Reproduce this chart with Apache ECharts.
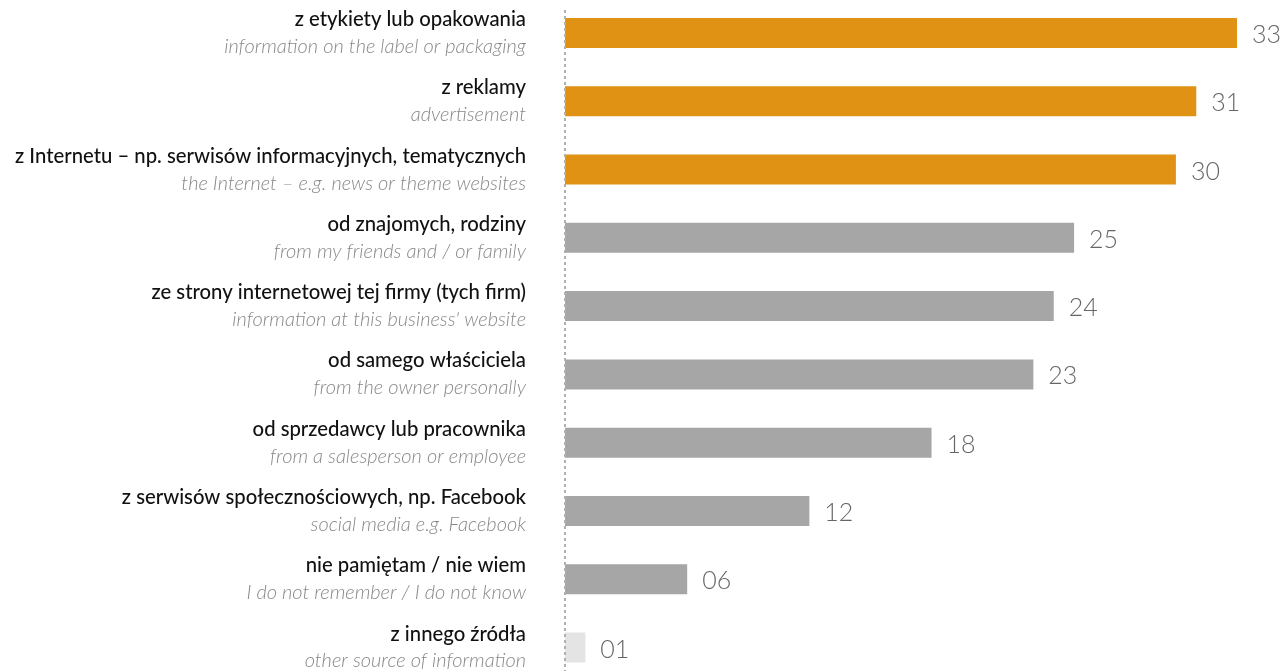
<!DOCTYPE html>
<html>
<head>
<meta charset="utf-8">
<script src="https://cdn.jsdelivr.net/npm/echarts@6/dist/echarts.min.js"></script>
<style>
  html, body { margin: 0; padding: 0; background: #ffffff; }
  #chart { width: 1286px; height: 671px; }
</style>
</head>
<body>
<div id="chart"></div>
<script>
// Source-of-information categories (Polish with English translation), top to bottom
const labelsPl = [
  'z etykiety lub opakowania',
  'z reklamy',
  'z Internetu – np. serwisów informacyjnych, tematycznych',
  'od znajomych, rodziny',
  'ze strony internetowej tej firmy (tych firm)',
  'od samego właściciela',
  'od sprzedawcy lub pracownika',
  'z serwisów społecznościowych, np. Facebook',
  'nie pamiętam / nie wiem',
  'z innego źródła'
];
const labelsEn = [
  'information on the label or packaging',
  'advertisement',
  'the Internet – e.g. news or theme websites',
  'from my friends and / or family',
  'information at this business\' website',
  'from the owner personally',
  'from a salesperson or employee',
  'social media e.g. Facebook',
  'I do not remember / I do not know',
  'other source of information'
];
const values = [33, 31, 30, 25, 24, 23, 18, 12, 6, 1];
const barGroups = ['top', 'top', 'top', 'rest', 'rest', 'rest', 'rest', 'rest', 'rest', 'other'];

const groupColors = { top: '#E09215', rest: '#A6A6A6', other: '#E4E4E4' };

const chart = echarts.init(document.getElementById('chart'));

const categories = labelsPl.map((pl, i) => pl + '\n' + labelsEn[i]);

chart.setOption({
  animation: false,
  grid: { left: 565, right: 49, top: 33, bottom: 23, containLabel: false },
  xAxis: {
    type: 'value',
    min: 0,
    max: 33,
    show: false
  },
  yAxis: {
    type: 'category',
    inverse: true,
    boundaryGap: false,
    data: categories,
    axisTick: { show: false },
    axisLine: { show: false },
    axisLabel: {
      margin: 39,
      align: 'right',
      formatter: function (v) {
        const parts = v.split('\n');
        return '{pl|' + parts[0] + '}\n{en|' + parts[1] + '}';
      },
      rich: {
        pl: {
          fontFamily: 'Lato',
          fontSize: 20.3,
          fontWeight: 500,
          color: '#111111',
          lineHeight: 27,
          align: 'right'
        },
        en: {
          fontFamily: 'Lato',
          fontSize: 20,
          fontWeight: 300,
          fontStyle: 'italic',
          color: '#888888',
          lineHeight: 27,
          align: 'right'
        }
      }
    }
  },
  series: [{
    type: 'bar',
    barWidth: 30,
    data: values.map((v, i) => ({
      value: v,
      itemStyle: { color: groupColors[barGroups[i]] }
    })),
    label: {
      show: true,
      position: 'right',
      distance: 15,
      offset: [0, 2],
      fontFamily: 'Lato',
      fontSize: 25,
      fontWeight: 300,
      color: '#666666',
      formatter: p => String(p.value).padStart(2, '0')
    }
  }]
});

// Dashed baseline at zero, running the full height of the plot
const x0 = chart.convertToPixel({ xAxisIndex: 0 }, 0);
chart.setOption({
  graphic: [{
    type: 'line',
    shape: { x1: x0, y1: 10, x2: x0, y2: 671 },
    style: { stroke: '#B0B0B0', lineWidth: 2, lineDash: [3, 3] },
    z: 10
  }]
});
</script>
</body>
</html>
